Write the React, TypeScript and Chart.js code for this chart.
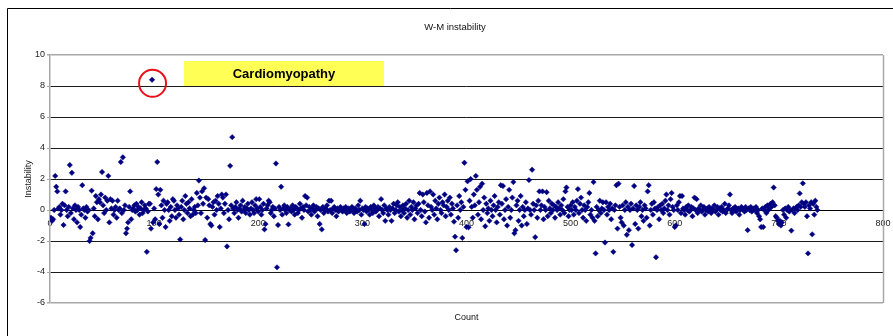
import React, { useEffect, useRef } from "react";
import { Chart, registerables } from "chart.js";

Chart.register(...registerables);

const chartTitle = "W-M instability";
const xTitle = "Count";
const yTitle = "Instability";
const noteText = "Cardiomyopathy";
const xTickRange = [0, 800, 100];
const yTickRange = [-6, 10, 2];

// Instability values for Count 1..737, in blocks of 100
const instabilityA = [
  -0.5, -0.7, -0.6, 0, 2.2, 1.5, 1.2, 0.1, 0.2, -0.3,
  0, 0.4, -0.97, 0.3, 1.2, 0, -0.4, 0.2, 2.9, -0.2,
  2.4, 0.1, -0.6, 0.3, 0, -0.8, 0.2, 0, -1.1, -0.3,
  1.6, 0.1, 0, -0.5, 0.2, -0.1, 0, -2.0, -1.8, 1.25,
  -1.5, 0.1, -0.4, 0.9, 0.5, -0.6, 0.7, 0.5, 1.0, 2.45,
  0.3, -0.2, 0.8, 0, 0.6, 2.2, -0.8, 0.7, 0.1, 0.6,
  -0.3, 0, 0.2, -0.5, 0.6, 0, 0.1, 3.1, -0.2, 3.4,
  0, 0.3, -1.5, -1.2, -0.8, 0.2, 1.2, -0.6, 0, 0.1,
  0.3, -0.1, 0.4, 0, 0.2, -0.3, 0.1, 0.5, -0.2, 0,
  0.3, 0.1, -2.7, -0.1, 0.4, 0.4, -1.2, 8.4, -0.8, 0.1,
];
const instabilityB = [
  -0.6, 1.35, 3.1, 1.0, -0.9, 1.3, 0.3, -0.5, 0.6, 0,
  -1.1, 0.4, 0.5, 0, -0.7, 0.2, -0.4, 0.7, 0.6, 0,
  -0.5, 0.3, 0.1, -0.3, -1.9, 0.2, 0.6, -0.6, 0, 0.9,
  0.4, -0.2, 0.5, 0.1, -0.4, 0.7, -0.3, 0, 0.2, -0.2,
  1.1, 0.3, 1.9, 0.8, -0.2, 1.2, 0.4, 1.4, -1.94, 0.8,
  -0.5, 0.7, 0.3, -0.9, -1.0, 0.2, 0.5, -0.3, 0.6, 0,
  0.9, 0.4, -1.1, 0.1, 1.0, 0.8, -0.2, 0.4, 1.0, -2.35,
  0, -0.6, 2.85, 0.3, 4.7, 0.1, -0.2, 0.2, 0.5, 0,
  -0.5, 0.1, 0.3, -0.1, 0.6, 0, 0.2, -0.2, 0.1, 0.4,
  0, -0.3, 0.1, 0.5, 0, -0.2, 0.3, 0.7, 0.1, -0.1,
];
const instabilityC = [
  0.7, 0.2, -0.3, 0, 0.4, -1.25, -0.9, 0.1, 0.3, 0.6,
  0.5, -0.2, 0, 0.2, -0.4, 0.1, 3.0, -3.7, -0.97, 0.2,
  0, 1.5, -0.3, 0.1, 0.3, 0, -0.2, 0.2, -0.93, 0,
  0.1, -0.1, 0.3, 0, -0.3, 0.2, 0.1, -0.2, 0, 0.4,
  0.1, -0.5, 0.2, 0, 0.9, 0.3, 0.8, -0.1, 0.2, 0,
  -0.3, 0.1, 0.3, -0.1, 0, 0.2, -0.4, 0.1, -0.9, 0,
  -1.25, 0.2, -0.2, 0, 0.1, 0.3, -0.1, 0.6, 0, 0.6,
  -0.2, 0.1, 0.2, 0, -0.4, 0.1, -0.1, 0, 0.2, 0,
  -0.1, 0.1, 0, 0.2, -0.2, 0, 0.1, -0.1, 0, 0.2,
  0, -0.2, 0.1, 0, -0.1, 0.3, 0, 0.6, -0.3, 0.1,
];
const instabilityD = [
  0, -0.9, 0.2, -0.1, 0.1, 0, -0.3, 0.2, 0, -0.2,
  0.3, 0.1, -0.1, 0, 0.2, -0.4, 0.1, 0.7, 0, -0.2,
  0.3, -0.7, 0.1, 0, -0.3, 0.2, 0, -0.7, 0.1, 0.4,
  -0.2, 0, 0.3, 0.5, -0.1, 0.2, -0.4, 0, 0.3, -0.2,
  0.1, 0.4, -0.5, 0, 0.6, -0.3, 0.2, 0, 0.5, -0.6,
  0.1, 0.3, -0.2, 0.4, 1.1, 0, -0.4, 1.0, 0.5, -0.1,
  -0.8, 1.1, 0.3, -0.5, 1.2, 0.2, 0, 1.0, -0.3, 0.6,
  0.1, -0.6, 0.4, 0.8, 0, -0.2, 0.5, 0.3, 1.0, -0.4,
  0.2, 0.6, 0, 0.8, -0.3, 0.4, 0.1, -0.75, -1.72, -2.6,
  0.3, -0.5, 0.9, 0, 0.5, -1.8, 0.2, 3.05, 1.3, -1.1,
];
const instabilityE = [
  1.85, -1.12, 0.6, 2.0, 0.2, -0.5, 1.0, 0.3, 2.2, 1.3,
  -0.3, 0.5, 1.5, -0.6, 1.7, 0, 0.8, -1.05, 0.4, -0.2,
  0.1, -0.7, 0.6, 0, -0.4, 0.3, 0.9, 0, -0.8, 0.2,
  0.5, -0.3, 1.6, 0.4, 1.55, -0.6, 0, 0.7, -1.0, 0.2,
  1.3, -0.5, 0, 0.8, 1.8, -1.5, -1.3, 0.3, 0.6, -0.7,
  0, 0.9, -1.0, 0.2, -0.4, 0, 0.5, -0.9, 0.1, 1.93,
  0, -0.3, 2.6, 0.4, 0, -1.75, 0.3, -0.5, 0.6, 1.2,
  0, 0.3, 1.2, -0.6, 0.2, 0, 1.15, -0.4, 0.6, 0.1,
  -0.2, 0.4, 0, 0.3, -0.5, 0.2, 0, 0.5, 0.1, -0.3,
  0.3, 0, 0.7, -0.2, 1.2, 1.45, 0.2, -0.4, 0, 0.3,
];
const instabilityF = [
  0, 0.5, -0.3, 0.2, 0, 0.6, 1.35, -0.2, 0.4, 0.8,
  0, -0.5, 0.3, 0, -0.7, 0.2, 0.5, 1.1, -0.3, 0,
  -0.5, 1.8, -0.7, -2.8, 0.2, -0.4, 0, 0.6, -0.2, 0.1,
  0.5, 0, -2.1, 0.5, -0.3, 0.2, 0, 0.4, -0.6, 0.1,
  -2.7, 0, 0.3, 1.6, -1.2, 1.7, 0.2, -0.5, -0.8, 0.3,
  -1.0, 0, 0.5, -1.6, 0.2, -1.3, 0, 0.4, -2.26, 0.1,
  1.55, -0.9, 0.3, 0, -1.2, 0.2, 0.5, -0.4, 0, -0.7,
  0.3, 0.1, -0.5, 1.2, 1.6, -1.0, 0, 0.4, -0.3, 0.5,
  0.1, -3.05, 0, 0.2, -0.6, 0.3, 0, 0.4, -0.2, 0.1,
  0.6, 1.0, 0, 0.3, -0.3, 0.7, 1.1, 0.2, 0, -1.1,
];
const instabilityG = [
  -1.0, 0.3, 0, 0.5, 0.9, -0.2, 0.9, 0.1, 0, -0.3,
  0.2, 0, 0.3, -0.1, 0, 0.2, -0.4, 0.1, 0.8, 0,
  0.7, -0.2, 0.1, 0, 0.3, -0.1, 0, 0.2, -0.3, 0,
  0.1, -0.1, 0.2, 0, -0.2, 0.1, 0, 0.3, -0.1, 0,
  0.2, -0.3, 0.1, 0, 0.2, -0.1, 0, 0.4, -0.2, 0,
  0.1, 0.3, 1.0, 0, -0.2, 0.1, 0, 0.2, -0.1, 0,
  0.1, -0.3, 0, 0.2, 0.1, 0, -0.1, 0.2, 0, -1.3,
  0.1, 0, 0.2, -0.1, 0, 0.1, 0, 0.2, -0.2, 0,
  -0.4, -0.6, -1.1, 0.1, -1.1, 0, 0.2, -0.2, 0.3, 0,
  0.1, 0.4, 0.2, 0.5, 1.45, 0.3, -0.4, -0.5, -0.7, -0.9,
];
const instabilityH = [
  -0.7, -1.0, -0.8, 0, -0.3, 0.1, -0.5, 0, 0.2, -0.1,
  0, -1.33, 0, 0.1, -0.2, 0.1, 0.2, 0, 0.3, 1.07,
  0.2, 0.5, 1.72, 0.4, 0.2, 0.5, -0.4, -2.8, 0.3, 0.1,
  0.5, -1.57, 0.4, -0.3, 0.6, 0.2, 0,
];

const instability = [
  ...instabilityA, ...instabilityB, ...instabilityC, ...instabilityD,
  ...instabilityE, ...instabilityF, ...instabilityG, ...instabilityH,
];

const FONT = "'Liberation Sans', Arial, sans-serif";

const decorPlugin = {
  id: "decor",
  afterDraw(chart: any) {
    const { ctx, chartArea } = chart;
    const x = chart.scales.x;
    const y = chart.scales.y;
    ctx.save();
    // outer frame (top & left)
    ctx.strokeStyle = "#000";
    ctx.lineWidth = 1;
    ctx.beginPath();
    ctx.moveTo(7.5, 340);
    ctx.lineTo(7.5, 8.5);
    ctx.lineTo(893, 8.5);
    ctx.stroke();
    // plot right border
    ctx.strokeStyle = "#a8a8a8";
    ctx.lineWidth = 1.5;
    ctx.beginPath();
    ctx.moveTo(Math.round(chartArea.right) + 0.5, chartArea.top);
    ctx.lineTo(Math.round(chartArea.right) + 0.5, chartArea.bottom);
    ctx.stroke();
    // title
    ctx.fillStyle = "#111";
    ctx.textAlign = "center";
    ctx.textBaseline = "middle";
    ctx.font = `9.5px ${FONT}`;
    ctx.fillText(chartTitle, 455, 27);
    // x title
    ctx.font = `9px ${FONT}`;
    ctx.fillText(xTitle, (chartArea.left + chartArea.right) / 2, 318);
    // annotation box
    ctx.fillStyle = "#ffff55";
    ctx.fillRect(184, 61, 200, 25);
    ctx.fillStyle = "#000";
    ctx.font = `bold 13px ${FONT}`;
    ctx.fillText(noteText, 284, 74);
    // red circle around the outlier
    const px = x.getPixelForValue(98);
    const py = y.getPixelForValue(8.4);
    ctx.strokeStyle = "#e8101a";
    ctx.lineWidth = 2;
    ctx.beginPath();
    ctx.ellipse(px + 0.5, py + 3.5, 13.5, 13.5, 0, 0, Math.PI * 2);
    ctx.stroke();
    ctx.restore();
  },
};

export default function App() {
  const ref = useRef<HTMLCanvasElement | null>(null);

  useEffect(() => {
    document.body.style.overflow = "hidden";
    const canvas = ref.current;
    if (!canvas) return;
    const points = instability.map((v, i) => ({ x: i + 1, y: v }));
    const chart = new Chart(canvas, {
      type: "scatter",
      data: {
        datasets: [
          {
            label: yTitle,
            data: points,
            pointStyle: "rectRot",
            pointRadius: 2.7,
            pointBackgroundColor: "#000080",
            pointBorderColor: "#000080",
            pointBorderWidth: 0.5,
            showLine: false,
          },
        ],
      },
      options: {
        responsive: false,
        animation: false,
        devicePixelRatio: 1,
        layout: { padding: { left: 20, top: 55, right: 10, bottom: 33 } },
        plugins: {
          legend: { display: false },
          title: { display: false },
          tooltip: { enabled: false },
        },
        scales: {
          x: {
            type: "linear",
            position: { y: 0 } as any,
            min: xTickRange[0],
            max: xTickRange[1],
            afterFit: (scale: any) => {
              scale.paddingLeft = 0;
              scale.paddingRight = 0;
            },
            ticks: {
              stepSize: xTickRange[2],
              padding: 0,
              color: "#222",
              font: { family: FONT, size: 9 },
              maxRotation: 0,
            },
            grid: { display: false },
            border: { display: true, color: "#000", width: 1 },
          },
          y: {
            type: "linear",
            min: yTickRange[0],
            max: yTickRange[1],
            afterFit: (scale: any) => {
              scale.width = 30;
            },
            ticks: {
              stepSize: yTickRange[2],
              padding: 2,
              color: "#222",
              font: { family: FONT, size: 9 },
            },
            grid: {
              color: (c: any) =>
                c.tick && (c.tick.value === yTickRange[1] || c.tick.value === yTickRange[0])
                  ? "#a8a8a8"
                  : "#1a1a1a",
              lineWidth: (c: any) =>
                c.tick && (c.tick.value === yTickRange[1] || c.tick.value === yTickRange[0])
                  ? 1.5
                  : 1,
              tickLength: 3,
              tickColor: "#a8a8a8",
            },
            border: { display: true, color: "#a8a8a8", width: 1.5 },
            title: {
              display: true,
              text: yTitle,
              color: "#222",
              font: { family: FONT, size: 9 },
              padding: { top: 3, bottom: 2 },
            },
          },
        },
      },
      plugins: [decorPlugin],
    });
    return () => chart.destroy();
  }, []);

  return (
    <div style={{ position: "fixed", left: 0, top: 0, width: 893, height: 336, background: "#fff" }}>
      <canvas ref={ref} width={893} height={336} style={{ width: 893, height: 336, display: "block" }} />
    </div>
  );
}
